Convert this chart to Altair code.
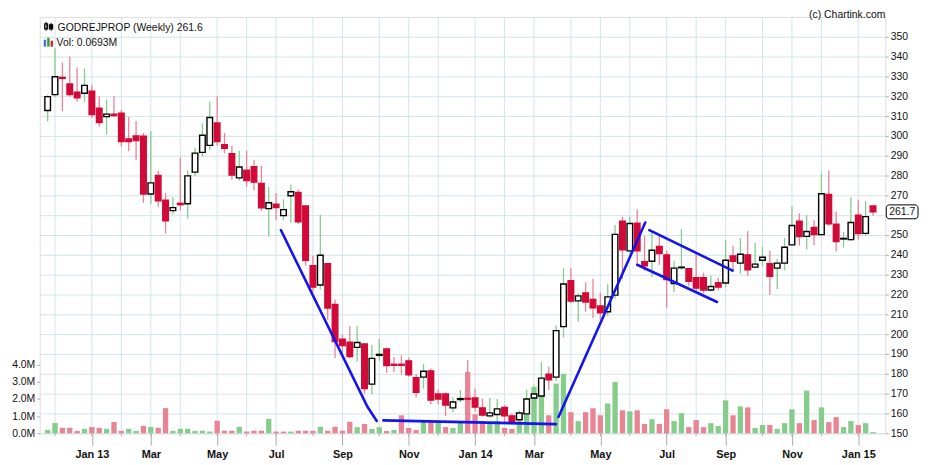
import altair as alt
import pandas as pd

# ---------------- data ----------------
start_date = "2012-11-26"   # first weekly candle

opens = [312.8, 320.8, 329.5, 326.2, 322.0, 321.5, 322.5, 314.0, 309.7, 311.0,
         311.5, 298.5, 300.0, 299.8, 270.7, 280.0, 267.5, 262.3, 266.0, 265.8,
         281.7, 291.7, 295.2, 306.5, 295.5, 291.0, 278.8, 282.7, 284.5, 276.0,
         263.3, 265.5, 259.8, 269.8, 271.5, 264.7, 234.5, 224.8, 235.5, 215.0,
         197.5, 196.0, 193.3, 195.0, 174.8, 189.3, 192.5, 184.8, 184.8, 186.5,
         178.0, 178.3, 181.5, 169.8, 169.8, 162.8, 167.0, 167.6, 167.8, 162.8,
         158.8, 159.5, 163.0, 158.8, 156.8, 159.8, 167.8, 168.8, 179.8, 178.3,
         203.8, 227.0, 216.8, 220.8, 217.5, 214.2, 211.3, 219.7, 257.0, 242.0,
         256.0, 236.5, 236.8, 244.2, 240.0, 225.5, 233.5, 233.0, 228.5, 228.5,
         222.3, 226.0, 225.8, 239.5, 235.8, 240.0, 233.8, 237.3, 235.5, 233.3,
         235.8, 245.0, 257.0, 249.3, 253.8, 250.2, 270.5, 255.5, 248.0, 247.7,
         260.0, 250.8, 264.6]
highs = [320.5, 344.2, 337.0, 340.0, 334.5, 334.0, 325.5, 320.0, 318.3, 320.0,
         313.0, 309.5, 307.5, 301.5, 302.5, 282.5, 271.0, 269.0, 289.0, 282.5,
         294.0, 306.3, 317.3, 320.0, 301.5, 295.0, 292.5, 292.5, 288.0, 285.0,
         274.2, 271.2, 268.0, 275.5, 272.8, 265.0, 239.5, 260.2, 235.5, 217.5,
         199.7, 204.0, 204.0, 195.5, 194.5, 197.5, 193.2, 188.5, 189.2, 188.2,
         180.0, 185.0, 182.7, 172.0, 170.5, 168.2, 171.8, 187.0, 172.5, 167.5,
         167.8, 167.3, 164.2, 160.0, 161.5, 172.0, 174.5, 186.0, 183.7, 204.3,
         233.3, 233.3, 220.8, 226.2, 228.0, 220.8, 225.2, 255.0, 259.2, 259.2,
         263.0, 249.7, 251.7, 249.7, 242.0, 237.0, 253.0, 233.5, 240.5, 231.0,
         229.5, 228.5, 247.5, 244.5, 248.5, 252.0, 246.0, 244.0, 242.0, 238.0,
         248.5, 264.5, 261.0, 260.0, 257.5, 281.0, 282.5, 261.8, 251.5, 269.0,
         267.8, 267.0, 264.6]
lows = [307.2, 319.7, 312.5, 319.7, 317.2, 317.0, 309.2, 304.7, 300.7, 309.5,
        294.7, 292.2, 287.7, 266.2, 265.7, 264.2, 250.7, 260.3, 262.5, 258.2,
        279.7, 289.7, 293.0, 295.0, 291.2, 278.0, 277.5, 274.2, 272.5, 262.2,
        249.2, 257.5, 257.5, 256.2, 255.5, 234.5, 221.2, 222.5, 207.2, 188.0,
        190.0, 187.8, 186.2, 170.0, 169.7, 186.7, 180.5, 180.8, 179.5, 178.5,
        168.0, 172.5, 164.7, 164.7, 158.7, 160.5, 165.7, 162.7, 160.8, 158.3,
        157.8, 154.2, 154.8, 155.0, 155.0, 156.7, 162.2, 167.2, 171.8, 176.3,
        198.2, 215.7, 206.2, 211.3, 208.2, 207.3, 209.0, 218.0, 227.8, 240.8,
        235.0, 232.0, 228.8, 235.0, 213.3, 221.2, 232.5, 224.2, 221.0, 220.5,
        221.5, 222.0, 223.7, 232.2, 230.5, 229.5, 233.3, 234.2, 219.7, 222.7,
        232.2, 244.7, 244.7, 242.7, 245.0, 249.7, 254.5, 241.7, 243.7, 247.0,
        247.7, 249.5, 259.7]
closes = [319.8, 329.8, 329.0, 320.8, 319.2, 325.5, 310.7, 306.7, 311.0, 310.2,
          297.2, 297.2, 297.7, 270.7, 276.3, 267.2, 257.2, 263.8, 265.3, 279.8,
          291.3, 300.3, 309.3, 297.2, 293.7, 280.2, 284.3, 277.5, 276.7, 263.7,
          266.3, 263.8, 262.8, 271.8, 256.7, 237.2, 223.7, 239.8, 213.2, 196.2,
          194.2, 188.7, 195.8, 172.5, 187.8, 189.8, 184.2, 184.3, 184.3, 179.5,
          170.7, 181.3, 166.7, 167.2, 164.2, 165.8, 167.5, 167.2, 163.2, 159.2,
          160.3, 162.3, 158.8, 155.5, 160.2, 167.3, 169.8, 177.8, 177.0, 201.8,
          225.3, 216.7, 219.3, 216.2, 213.3, 210.7, 218.8, 250.3, 242.5, 255.8,
          242.0, 234.5, 242.3, 240.7, 227.5, 233.3, 233.8, 226.7, 223.2, 222.3,
          224.0, 223.7, 237.3, 236.7, 240.3, 232.5, 235.3, 238.8, 229.2, 235.8,
          243.8, 254.8, 249.2, 251.8, 250.2, 270.8, 255.7, 246.7, 248.3, 256.3,
          250.7, 259.3, 261.7]
volumes_m = [0.20, 0.60, 0.32, 0.32, 0.14, 0.26, 0.37, 0.32, 0.26, 0.66,
             0.14, 0.26, 0.14, 0.43, 0.37, 0.32, 1.47, 0.14, 0.26, 0.26,
             0.14, 0.15, 0.10, 0.73, 0.15, 0.15, 0.38, 0.10, 0.15, 0.15,
             0.84, 0.10, 0.10, 0.10, 0.15, 0.15, 0.15, 0.38, 0.15, 0.38,
             0.15, 0.67, 0.36, 0.54, 0.25, 0.36, 0.13, 0.19, 1.05, 0.31,
             0.19, 0.71, 0.71, 0.71, 0.36, 0.31, 0.71, 3.58, 1.11, 0.71,
             0.59, 0.71, 0.31, 0.25, 0.71, 1.10, 2.70, 2.70, 1.05, 2.90,
             3.47, 1.23, 0.71, 1.23, 1.46, 1.05, 1.74, 3.00, 1.34, 1.28,
             1.34, 0.54, 0.82, 0.54, 1.40, 0.71, 1.17, 0.36, 0.77, 0.36,
             0.59, 0.42, 1.92, 1.05, 1.57, 1.51, 0.31, 0.48, 0.48, 0.25,
             0.59, 1.40, 0.59, 2.49, 0.77, 1.51, 0.65, 0.94, 0.36, 0.71,
             0.48, 0.59, 0.07]
# 1 = green volume bar (close above previous close), 0 = red
vol_up = [1, 1, 0, 0, 0, 1, 0, 0, 1, 0,
          0, 1, 1, 0, 1, 0, 0, 1, 1, 1,
          1, 1, 1, 0, 0, 0, 1, 0, 0, 0,
          1, 0, 0, 1, 0, 0, 0, 1, 0, 0,
          0, 0, 1, 0, 1, 1, 0, 1, 0, 0,
          0, 1, 0, 1, 0, 1, 1, 0, 0, 0,
          1, 1, 0, 0, 1, 1, 1, 1, 0, 1,
          1, 0, 1, 0, 0, 0, 1, 1, 0, 1,
          0, 0, 1, 0, 0, 1, 1, 0, 0, 0,
          1, 1, 1, 0, 1, 0, 1, 1, 0, 1,
          1, 1, 0, 1, 0, 1, 0, 0, 1, 1,
          0, 1, 1]

# hand-drawn trend lines (week index, price)
trend_seg = ["a", "a", "a", "b", "b", "c", "c", "d", "d", "e", "e"]
trend_week = [31.65, 43.38, 44.66, 45.56, 68.97, 69.32, 81.10, 81.65, 92.95, 80.00, 90.84]
trend_price = [252.5, 163.5, 156.2, 156.5, 154.6, 158.2, 256.3, 252.5, 232.0, 235.0, 216.2]

title_text = "GODREJPROP (Weekly) 261.6"
vol_text = "Vol: 0.0693M"
credit_text = "(c) Chartink.com"
last_label = "261.7"
price_ticks = list(range(150, 351, 10))
vol_ticks = [0, 1, 2, 3, 4]

# ---------------- styling ----------------
FONT = "Liberation Sans"
FS = 10.5
GRID = "#d3e3ea"
FRAME = "#aaaaaa"
RED = "#d20a38"
VGREEN = "#86cc8a"
VRED = "#e88494"
BLUE = "#1414f0"
W, H = 853, 420

n = len(opens)
dates = pd.date_range(start_date, periods=n, freq="7D")
df = pd.DataFrame({
    "i": list(range(n)), "open": opens, "high": highs, "low": lows,
    "close": closes, "vol": volumes_m, "vup": vol_up,
})
df["up"] = (df["close"] >= df["open"]).astype(int)
df["zero"] = 0.0

# first weekly candle of every month (grid lines)
mdf = pd.DataFrame({"i": range(n), "m": dates.to_period("M").astype(str)})
month_first = mdf.groupby("m")["i"].min().reset_index()
month_first = month_first[month_first["m"] != "2012-11"].reset_index(drop=True)
month_first["mon"] = month_first["m"].str[5:7].astype(int)
month_first["yr"] = month_first["m"].str[2:4]
names = {1: "Jan", 3: "Mar", 5: "May", 7: "Jul", 9: "Sep", 11: "Nov"}
lab = month_first[month_first["mon"] % 2 == 1]
label_pos = lab["i"].tolist()
label_txt = [names[m] + (" " + y if m == 1 else "") for m, y in zip(lab["mon"], lab["yr"])]

pos_js = "[" + ",".join(str(p) for p in label_pos) + "]"
txt_js = "[" + ",".join("'" + t + "'" for t in label_txt) + "]"

xscale = alt.Scale(domain=[-1.076, 113.67], nice=False, zero=False)
xaxis = alt.Axis(values=label_pos, labelExpr=f"{txt_js}[indexof({pos_js}, datum.value)]",
                 grid=False, domain=False, tickSize=12, tickColor=FRAME, labelPadding=3,
                 labelFont=FONT, labelFontSize=11, labelFontWeight="bold", labelColor="#111",
                 title=None)
pscale = alt.Scale(domain=[150, 360], nice=False, zero=False)
paxis = alt.Axis(orient="right", values=price_ticks, grid=True, gridColor=GRID, domain=False,
                 tickSize=3, tickColor=FRAME, labelPadding=2, labelFont=FONT, labelFontSize=FS,
                 labelColor="#111", labelExpr="datum.value == 260 ? '' : datum.label", title=None)
vscale = alt.Scale(domain=[0, 24.3], nice=False, zero=True)
vaxis = alt.Axis(orient="left", values=vol_ticks, grid=False, domain=False, tickSize=3,
                 tickColor=FRAME, labelPadding=2, labelFont=FONT, labelFontSize=FS,
                 labelColor="#111", labelExpr="format(datum.value, '.1f') + 'M'", title=None)

X = alt.X("i:Q", scale=xscale, axis=xaxis)

one = pd.DataFrame({"k": [0]})

# ---- volume group ----
vgrid = alt.Chart(month_first).mark_rule(color=GRID, strokeWidth=1).encode(
    x=X, y=alt.value(0), y2=alt.value(H))
mticks = alt.Chart(month_first).mark_rule(color=FRAME, strokeWidth=1).encode(
    x=X, y=alt.value(H), y2=alt.value(H + 3))
vbars = alt.Chart(df).transform_calculate(
    x0="datum.i - 0.36", x1="datum.i + 0.36"
).mark_rect(strokeWidth=0).encode(
    x=alt.X("x0:Q", scale=xscale, axis=xaxis), x2="x1:Q",
    y=alt.Y("vol:Q", scale=vscale, axis=vaxis), y2="zero:Q",
    color=alt.Color("vup:N", scale=alt.Scale(domain=[1, 0], range=[VGREEN, VRED]), legend=None),
)
vol_group = alt.layer(vgrid, mticks, vbars)

# ---- price group ----
wicks = alt.Chart(df).mark_rule(strokeWidth=1.3).encode(
    x=X,
    y=alt.Y("low:Q", scale=pscale, axis=paxis), y2="high:Q",
    color=alt.Color("up:N", scale=alt.Scale(domain=[1, 0], range=["#000000", RED]), legend=None),
)
bodies = alt.Chart(df).transform_calculate(
    x0="datum.i - 0.38", x1="datum.i + 0.38"
).mark_rect(strokeWidth=1.4).encode(
    x=alt.X("x0:Q", scale=xscale, axis=xaxis), x2="x1:Q",
    y=alt.Y("open:Q", scale=pscale, axis=paxis), y2="close:Q",
    fill=alt.Fill("up:N", scale=alt.Scale(domain=[1, 0], range=["#ffffff", RED]), legend=None),
    stroke=alt.Stroke("up:N", scale=alt.Scale(domain=[1, 0], range=["#000000", RED]), legend=None),
)
tdf = pd.DataFrame({"seg": trend_seg, "i": trend_week, "p": trend_price})
tlines = alt.Chart(tdf).mark_line(color=BLUE, strokeWidth=2.6, strokeCap="round").encode(
    x=X, y=alt.Y("p:Q", scale=pscale, axis=paxis), detail="seg:N")

last = df.tail(1).copy()
last["bt"] = last["close"] + 3.5
last["bb"] = last["close"] - 3.5
last["lab"] = last_label
pbox = alt.Chart(last).mark_rect(fill="white", stroke="#000", strokeWidth=1, cornerRadius=3).encode(
    x=alt.value(W + 1), x2=alt.value(W + 33),
    y=alt.Y("bt:Q", scale=pscale, axis=paxis), y2="bb:Q")
ptext = alt.Chart(last).mark_text(font=FONT, fontSize=FS, color="#111", align="center",
                                  baseline="middle").encode(
    x=alt.value(W + 17), y=alt.Y("close:Q", scale=pscale, axis=paxis), text="lab:N")

tdata = pd.DataFrame({"t": [title_text, vol_text], "px": [18, 17], "py": [11, 26]})
t_left = alt.Chart(tdata).mark_text(font=FONT, fontSize=FS, color="#111", align="left",
                                    baseline="middle").encode(
    x=alt.X("px:Q", scale=None), y=alt.Y("py:Q", scale=None), text="t:N")
cdata = pd.DataFrame({"t": [credit_text]})
t_right = alt.Chart(cdata).mark_text(font=FONT, fontSize=FS, color="#111", align="right",
                                     baseline="top").encode(
    x=alt.value(W), y=alt.value(-6.5), text="t:N")

# tiny legend icons
icon_c = alt.Chart(one).mark_rect(fill="white", stroke="#000", strokeWidth=1.2).encode(
    x=alt.value(5), x2=alt.value(8), y=alt.value(7), y2=alt.value(12))
icon_c2 = alt.Chart(one).mark_rect(fill="#000", stroke="#000", strokeWidth=1.2).encode(
    x=alt.value(10), x2=alt.value(13), y=alt.value(8), y2=alt.value(12))
icon_w = alt.Chart(one).mark_rule(color="#000", strokeWidth=1).encode(
    x=alt.value(6.5), y=alt.value(5), y2=alt.value(14))
icon_w2 = alt.Chart(one).mark_rule(color="#000", strokeWidth=1).encode(
    x=alt.value(11.5), y=alt.value(6), y2=alt.value(14))
icon_v1 = alt.Chart(one).mark_rect(fill="#4f6fc8").encode(
    x=alt.value(4), x2=alt.value(6.5), y=alt.value(23), y2=alt.value(30))
icon_v2 = alt.Chart(one).mark_rect(fill="#3b9a3b").encode(
    x=alt.value(7.5), x2=alt.value(10), y=alt.value(21), y2=alt.value(30))
icon_v3 = alt.Chart(one).mark_rect(fill="#c8283c").encode(
    x=alt.value(11), x2=alt.value(13.5), y=alt.value(24), y2=alt.value(30))

price_group = alt.layer(wicks, bodies, tlines, pbox, ptext)
deco = alt.layer(t_left, t_right, icon_c, icon_c2, icon_w, icon_w2, icon_v1, icon_v2, icon_v3)

chart = alt.layer(vol_group, price_group, deco).resolve_scale(y="independent").properties(
    width=W, height=H,
    autosize=alt.AutoSizeParams(type="none"),
    padding={"left": 32, "top": 7, "right": 37, "bottom": 30},
).configure_view(stroke=FRAME, strokeWidth=1).configure(background="white")

chart.save("out.html", embed_options={"renderer": "svg", "actions": False})
